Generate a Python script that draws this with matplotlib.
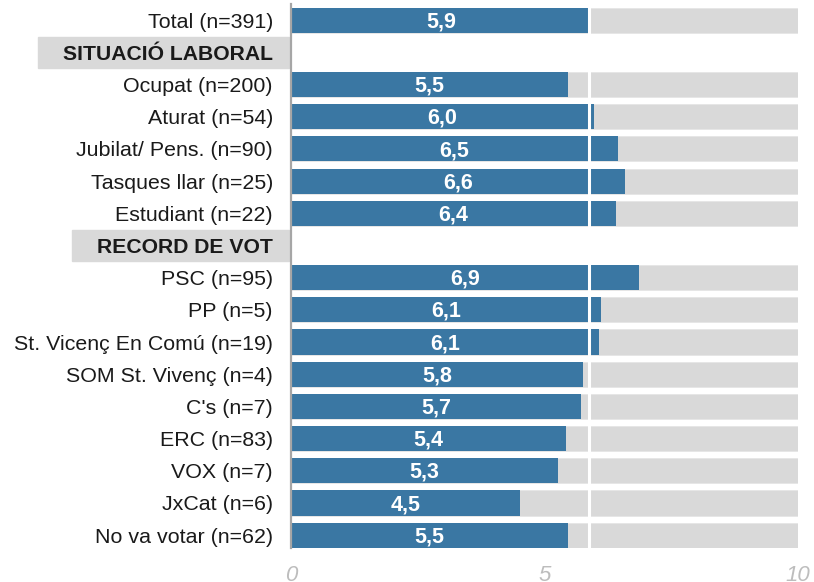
import numpy as np
import matplotlib
matplotlib.use("Agg")
import matplotlib.pyplot as plt
from matplotlib.patches import Rectangle

plt.rcParams['font.family'] = ['Liberation Sans', 'DejaVu Sans']

# rows from top to bottom; headers have no value
categories = ["Total (n=391)", "SITUACIÓ LABORAL", "Ocupat (n=200)", "Aturat (n=54)",
              "Jubilat/ Pens. (n=90)", "Tasques llar (n=25)", "Estudiant (n=22)",
              "RECORD DE VOT", "PSC (n=95)", "PP (n=5)", "St. Vicenç En Comú (n=19)",
              "SOM St. Vivenç (n=4)", "C's (n=7)", "ERC (n=83)", "VOX (n=7)",
              "JxCat (n=6)", "No va votar (n=62)"]
values = [5.92, np.nan, 5.46, 5.97, 6.46, 6.60, 6.42,
          np.nan, 6.86, 6.12, 6.08, 5.77, 5.72, 5.42, 5.26, 4.52, 5.47]
headers = ["SITUACIÓ LABORAL", "RECORD DE VOT"]
total_ref = 5.88
scale_max = 10
xticks = [0, 5, 10]

blue = "#3a77a3"
grey = "#d9d9d9"

fig = plt.figure(figsize=(8.14, 5.82), dpi=100)
ax = fig.add_axes([0.3575, 0.0584, 0.6225, 0.9346])

y = np.arange(len(categories))
vals = np.array(values)
is_row = ~np.isnan(vals)

# background bars to the top of the scale
ax.barh(y[is_row], scale_max, height=0.78, color=grey, edgecolor="#e6e6e6",
        linewidth=0.6, zorder=1)
# value bars
ax.barh(y[is_row], vals[is_row], height=0.78, color=blue, zorder=2)
# reference line at the total value
ax.axvline(total_ref, color="white", linewidth=2.2, zorder=3)

for yi, v in zip(y[is_row], vals[is_row]):
    ax.text(v / 2, yi + 0.05, f"{v:.1f}".replace(".", ","), ha="center", va="center",
            color="white", fontsize=15.5, fontweight="bold", zorder=4)

ax.set_xlim(0, scale_max)
ax.set_ylim(len(categories) - 0.6, -0.5)
ax.set_xticks(xticks)
ax.set_xticklabels([str(t) for t in xticks], fontstyle="italic", color="#bdbdbd", fontsize=16)
ax.set_yticks(y)
ax.set_yticklabels(categories, fontsize=15.4, color="#1a1a1a")
ax.tick_params(axis="y", length=0, pad=13)
ax.tick_params(axis="x", length=0, pad=12)

for s in ["top", "right", "bottom"]:
    ax.spines[s].set_visible(False)
ax.spines["left"].set_color("#a6a6a6")
ax.spines["left"].set_linewidth(1.6)
ax.spines["left"].set_zorder(5)

for lab in ax.get_yticklabels():
    if lab.get_text() in headers:
        lab.set_fontweight("bold")
        lab.set_fontsize(15.2)

# grey boxes behind the section headers
fig.canvas.draw()
renderer = fig.canvas.get_renderer()
ax_left = ax.get_window_extent().x0
for lab, yi in zip(ax.get_yticklabels(), y):
    if lab.get_text() in headers:
        bb = lab.get_window_extent(renderer)
        yc = ax.transData.transform((0, yi))[1]
        x0 = bb.x0 - 25
        w = ax_left - 2 - x0
        rect = Rectangle((x0 / fig.bbox.width, (yc - 15.5) / fig.bbox.height),
                         w / fig.bbox.width, 31 / fig.bbox.height,
                         transform=fig.transFigure, color=grey, zorder=-1)
        fig.patches.append(rect)

fig.savefig("out.png", dpi=100)
